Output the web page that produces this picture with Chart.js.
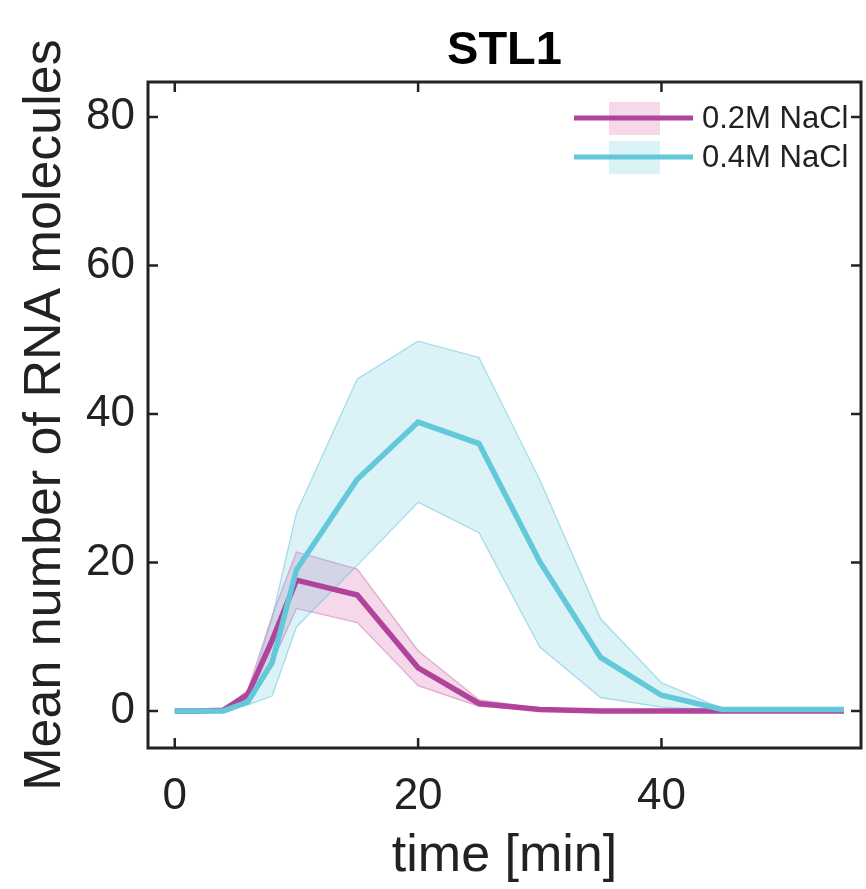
<!DOCTYPE html>
<html>
<head>
<meta charset="utf-8">
<script src="https://cdn.jsdelivr.net/npm/chart.js@4.4.1/dist/chart.umd.min.js"></script>
<style>
  html, body { margin: 0; padding: 0; background: #ffffff; }
  #wrap { width: 866px; height: 889px; position: relative; }
</style>
</head>
<body>
<div id="wrap"><canvas id="c" width="866" height="889"></canvas></div>
<script>
// ---- data ----
const chartTitle = 'STL1';
const xTitle = 'time [min]';
const yTitle = 'Mean number of RNA molecules';
const seriesNames = ['0.2M NaCl', '0.4M NaCl'];

const timeMin = [0, 2, 4, 6, 8, 10, 15, 20, 25, 30, 35, 40, 45, 50, 55];

const mean02 = [0, 0, 0.1, 2.2, 9.5, 17.6, 15.6, 5.8, 1.0, 0.2, 0, 0, 0, 0, 0];
const upper02 = [0, 0, 0.2, 2.8, 12.8, 21.4, 19.1, 8.1, 1.5, 0.3, 0.1, 0, 0, 0, 0];
const lower02 = [0, 0, 0, 1.6, 6.5, 13.8, 11.9, 3.4, 0.6, 0.1, 0, 0, 0, 0, 0];

const mean04 = [0, 0, 0, 1.2, 6.5, 19.0, 31.2, 38.9, 36.0, 20.1, 7.2, 2.1, 0.2, 0.2, 0.2];
const upper04 = [0, 0, 0.1, 1.8, 12.5, 26.7, 44.7, 49.8, 47.6, 31.1, 12.4, 3.8, 0.3, 0.2, 0.2];
const lower04 = [0, 0, 0, 0.8, 2.0, 11.3, 19.6, 28.1, 24.0, 8.6, 1.8, 0.5, 0.1, 0.1, 0.1];

const xTicks = [0, 20, 40];
const yTicks = [0, 20, 40, 60, 80];

// ---- styles ----
const FONT = '"Liberation Sans", Arial, Helvetica, sans-serif';
const magLine = '#b0449b';
const cyanLine = '#62c8da';
const magFill = 'rgba(208, 80, 158, 0.22)';
const cyanFill = 'rgba(91, 194, 220, 0.22)';
const magEdge = 'rgba(200, 90, 165, 0.45)';
const cyanEdge = 'rgba(110, 195, 220, 0.55)';
const ink = '#222222';

const pts = arr => arr.map((v, i) => ({ x: timeMin[i], y: v }));

const frame = {
  id: 'frame',
  afterDraw(chart) {
    const { ctx, chartArea: a, scales } = chart;
    ctx.save();
    // box
    ctx.strokeStyle = ink;
    ctx.lineWidth = 3;
    ctx.strokeRect(a.left, a.top, a.right - a.left, a.bottom - a.top);
    // inward ticks
    ctx.lineWidth = 2.5;
    const tl = 10;
    ctx.beginPath();
    xTicks.forEach(v => {
      const px = scales.x.getPixelForValue(v);
      ctx.moveTo(px, a.bottom); ctx.lineTo(px, a.bottom - tl);
      ctx.moveTo(px, a.top); ctx.lineTo(px, a.top + tl);
    });
    yTicks.forEach(v => {
      const py = scales.y.getPixelForValue(v);
      ctx.moveTo(a.left, py); ctx.lineTo(a.left + tl, py);
      ctx.moveTo(a.right, py); ctx.lineTo(a.right - tl, py);
    });
    ctx.stroke();
    // title
    ctx.fillStyle = '#000';
    ctx.font = 'bold 47px ' + FONT;
    ctx.textAlign = 'center';
    ctx.textBaseline = 'middle';
    ctx.fillText(chartTitle, (a.left + a.right) / 2, a.top - 31);
    // legend
    const rows = [
      { name: seriesNames[0], line: magLine, fill: magFill },
      { name: seriesNames[1], line: cyanLine, fill: cyanFill }
    ];
    rows.forEach((r, i) => {
      const y = a.top + 36 + i * 39;
      ctx.fillStyle = r.fill;
      ctx.fillRect(a.right - 252, y - 16, 51, 33);
      ctx.strokeStyle = r.line;
      ctx.lineWidth = 5;
      ctx.beginPath();
      ctx.moveTo(a.right - 287, y);
      ctx.lineTo(a.right - 168, y);
      ctx.stroke();
      ctx.fillStyle = ink;
      ctx.font = '31px ' + FONT;
      ctx.textAlign = 'left';
      ctx.textBaseline = 'middle';
      ctx.fillText(r.name, a.right - 159, y + 1);
    });
    ctx.restore();
  }
};

new Chart(document.getElementById('c'), {
  type: 'line',
  data: {
    datasets: [
      { label: 'upper02', data: pts(upper02), fill: '+1', backgroundColor: magFill, borderColor: magEdge, borderWidth: 1.3, order: 3 },
      { label: 'lower02', data: pts(lower02), fill: false, borderColor: magEdge, borderWidth: 1.3, order: 3 },
      { label: 'upper04', data: pts(upper04), fill: '+1', backgroundColor: cyanFill, borderColor: cyanEdge, borderWidth: 1.3, order: 2 },
      { label: 'lower04', data: pts(lower04), fill: false, borderColor: cyanEdge, borderWidth: 1.3, order: 2 },
      { label: seriesNames[0], data: pts(mean02), fill: false, borderColor: magLine, borderWidth: 5.5, order: 1 },
      { label: seriesNames[1], data: pts(mean04), fill: false, borderColor: cyanLine, borderWidth: 5.5, order: 0 }
    ]
  },
  options: {
    responsive: false,
    animation: false,
    devicePixelRatio: 1,
    layout: { padding: { top: 82, right: 5, left: 0, bottom: 0 } },
    elements: { point: { radius: 0 }, line: { tension: 0, borderJoinStyle: 'miter' } },
    plugins: { legend: { display: false }, title: { display: false }, tooltip: { enabled: false } },
    scales: {
      x: {
        type: 'linear', min: -2.2, max: 56.4,
        afterFit(s) { s.height = 141; },
        afterBuildTicks(s) { s.ticks = xTicks.map(v => ({ value: v })); },
        grid: { display: false, drawTicks: false, tickLength: 0 },
        border: { display: false },
        ticks: { color: ink, font: { family: FONT, size: 44 }, padding: 22, maxRotation: 0, autoSkip: false },
        title: { display: true, text: xTitle, color: ink, font: { family: FONT, size: 52, lineHeight: 1 }, padding: { top: 0, bottom: 6 } }
      },
      y: {
        type: 'linear', min: -5, max: 84.7,
        afterFit(s) { s.width = 148; },
        afterBuildTicks(s) { s.ticks = yTicks.map(v => ({ value: v })); },
        grid: { display: false, drawTicks: false, tickLength: 0 },
        border: { display: false },
        ticks: { color: ink, font: { family: FONT, size: 44 }, padding: 13, autoSkip: false },
        title: { display: true, text: yTitle, color: ink, font: { family: FONT, size: 52, lineHeight: 1 }, padding: { top: 20, bottom: 0 } }
      }
    }
  },
  plugins: [frame]
});
</script>
</body>
</html>
